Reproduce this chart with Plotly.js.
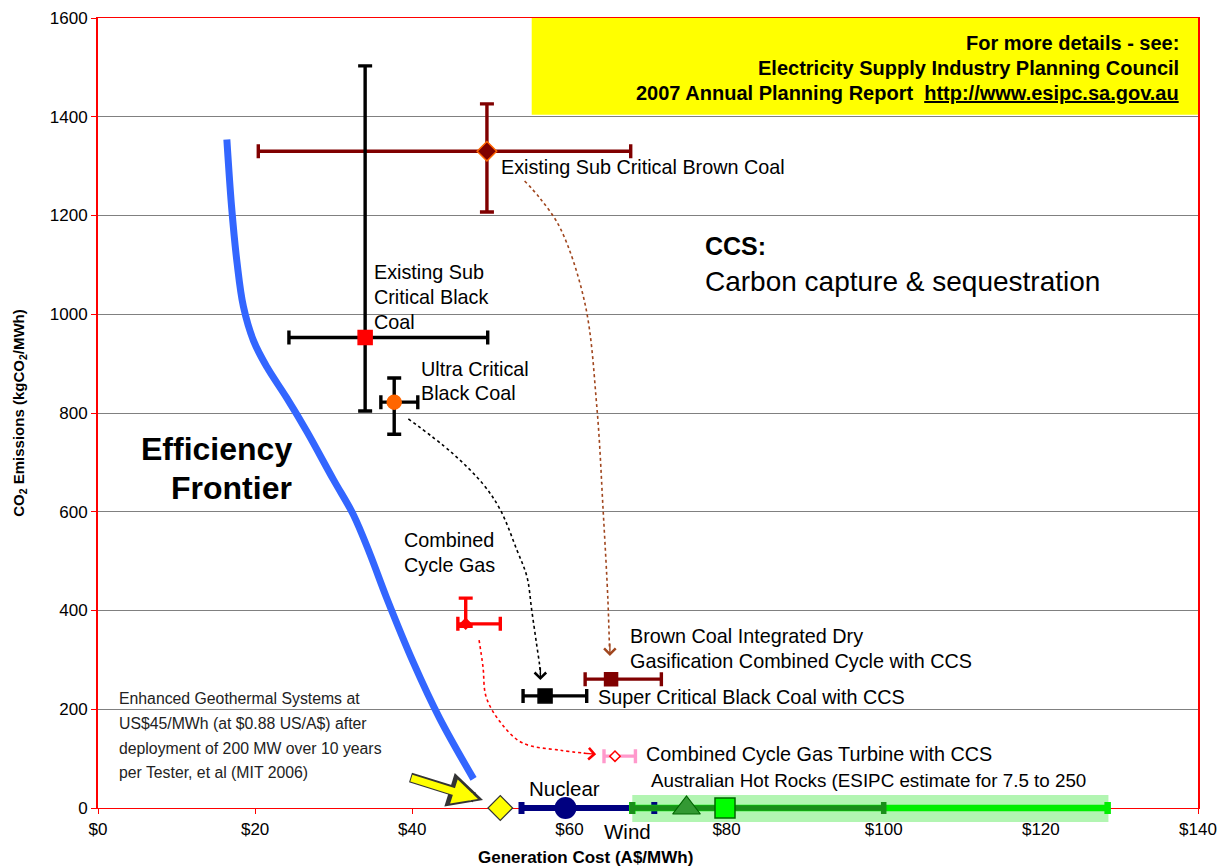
<!DOCTYPE html>
<html><head><meta charset="utf-8">
<script src="https://cdn.plot.ly/plotly-3.0.1.min.js"></script>
<style>html,body{margin:0;padding:0;background:#fff}#chart{width:1224px;height:866px}</style>
</head><body><div id="chart"></div>
<script>
// ---------------- DATA ----------------
const technologies = ["Existing Sub Critical Brown Coal", "Existing Sub Critical Black Coal", "Ultra Critical Black Coal",
  "Combined Cycle Gas", "Super Critical Black Coal with CCS", "Brown Coal IDGCC with CCS", "Combined Cycle Gas Turbine with CCS"];
const genCost  = [49.5, 34.0, 37.7, 46.8, 56.9, 65.3, 65.8];
const costLow  = [20.4, 24.3, 36.0, 45.8, 54.1, 62.0, 64.4];
const costHigh = [67.8, 49.6, 40.7, 51.2, 62.2, 71.7, 68.4];
const emissions = [1330, 953, 822, 373, 227, 261, 105];
const emisLow   = [1207, 804, 757, 368, 227, 261, 105];
const emisHigh  = [1426, 1503, 871, 425, 227, 261, 105];

const zeroEmissionTech = ["Enhanced Geothermal", "Nuclear", "Wind", "Australian Hot Rocks"];
const zeroCost     = [51.2, 59.5, 74.9, 79.8];
const zeroCostLow  = [51.2, 53.9, 68.0, 68.0];
const zeroCostHigh = [51.2, 70.8, 100.0, 128.5];
const zeroEmis     = [0, 0, 0, 0];

const frontierCost = [16.4, 17.0, 17.7, 18.5, 19.8, 21.5, 24.0, 26.6, 30.0, 32.5, 34.6, 36.7, 40.1, 43.5, 47.8];
const frontierEmis = [1354, 1218, 1104, 1016, 946, 893, 831, 762, 664, 594, 515, 427, 296, 181, 59];

const hotRocksBand = [68.0, 128.6];

// connector paths (data coordinates)
const brownPathX = [54.3, 56.3, 58.9, 62.0, 63.5, 64.3, 64.9, 65.1];
const brownPathY = [1270, 1234, 1172, 1020, 810, 600, 420, 320];
const blackPathX = [39.5, 45.0, 49.0, 51.2, 53.3, 54.6, 55.2, 55.8, 56.2, 56.3];
const blackPathY = [788, 720, 656, 604, 523, 468, 401, 334, 290, 272];
const redPathX = [48.5, 49.0, 49.4, 51.2, 54.0, 58.8, 62.0];
const redPathY = [340, 286, 225, 174, 132, 117, 111];

// ---------------- STYLES ----------------
const FONT = 'Liberation Sans, Arial, sans-serif';
const barColor = ['#800000', '#000000', '#000000', '#FF0000', '#000000', '#800000', '#FF99CC'];
const mkSymbol = ['diamond', 'square', 'circle', 'diamond', 'square', 'square', 'diamond'];
const mkSize = [15, 14, 14, 8, 14, 13, 8];
const mkFill = ['#800000', '#FF0000', '#FF6600', '#FF0000', '#000000', '#800000', '#FFFFFF'];
const mkLine = ['#FF6600', '#FF0000', '#FF6600', '#FF0000', '#000000', '#800000', '#FF0000'];

const traces = [];

// efficiency frontier
traces.push({x: frontierCost, y: frontierEmis, mode: 'lines', line: {color: '#3366FF', width: 7, shape: 'spline'}, hoverinfo: 'skip'});

// dotted connectors
traces.push({x: brownPathX, y: brownPathY, mode: 'lines', line: {color: '#A0461E', width: 1.6, dash: 'dot', shape: 'spline'}});
traces.push({x: blackPathX, y: blackPathY, mode: 'lines', line: {color: '#000000', width: 1.6, dash: 'dot', shape: 'spline'}});
traces.push({x: redPathX, y: redPathY, mode: 'lines', line: {color: '#FF0000', width: 1.6, dash: 'dot', shape: 'spline'}});

technologies.forEach((name, i) => {
  const hasY = emisHigh[i] - emisLow[i] > 0;
  traces.push({
    name, x: [genCost[i]], y: [emissions[i]], mode: 'markers',
    marker: {symbol: mkSymbol[i], size: mkSize[i], color: mkFill[i], line: {color: mkLine[i], width: 1.5}},
    error_x: {type: 'data', symmetric: false, array: [costHigh[i] - genCost[i]], arrayminus: [genCost[i] - costLow[i]],
      color: barColor[i], thickness: 3.4, width: 7},
    error_y: {visible: hasY, type: 'data', symmetric: false, array: [emisHigh[i] - emissions[i]], arrayminus: [emissions[i] - emisLow[i]],
      color: barColor[i], thickness: 3.4, width: 7}
  });
});

// zero emission row, drawn on a thin helper subplot centred on the x axis so the bars are not clipped
function zeroBar(i, color, thick, marker) {
  return {
    name: zeroEmissionTech[i], x: [zeroCost[i]], y: [zeroEmis[i]], xaxis: 'x', yaxis: 'y2', mode: 'markers', cliponaxis: false,
    marker: marker || {size: 1, opacity: 0},
    error_x: {type: 'data', symmetric: false, array: [zeroCostHigh[i] - zeroCost[i]], arrayminus: [zeroCost[i] - zeroCostLow[i]],
      color, thickness: thick, width: 6}
  };
}
traces.push(zeroBar(1, '#000080', 6, {symbol: 'circle', size: 22, color: '#000080'}));
traces.push(zeroBar(3, '#00EE00', 6.5));
traces.push(zeroBar(2, '#1A8F1A', 5.5, {symbol: 'triangle-up', size: 24, color: '#339933', line: {color: '#006600', width: 1.2}}));
traces.push({name: zeroEmissionTech[3], x: [zeroCost[3]], y: [zeroEmis[3]], xaxis: 'x', yaxis: 'y2', mode: 'markers', cliponaxis: false,
  marker: {symbol: 'square', size: 20, color: '#00FF00', line: {color: '#006600', width: 1.5}}});
traces.push({name: zeroEmissionTech[0], x: [zeroCost[0]], y: [zeroEmis[0]], xaxis: 'x', yaxis: 'y2', mode: 'markers', cliponaxis: false,
  marker: {symbol: 'diamond', size: 19, color: '#FFFF00', line: {color: '#333333', width: 1.2}}});

// ---------------- ANNOTATIONS ----------------
function textBlock(lines, x, y, o) {
  const lh = o.lh || o.size * 1.3;
  return lines.map((t, i) => ({
    x, y, xref: o.xref || 'x', yref: o.yref || 'y', text: t, showarrow: false,
    xanchor: o.xanchor || 'left', yanchor: 'middle',
    yshift: ((lines.length - 1) / 2 - i) * lh,
    font: {family: o.family || FONT, size: o.size, color: o.color || '#000000'}
  }));
}
let ann = [];
ann = ann.concat(textBlock(['Existing Sub Critical Brown Coal'], 51.0, 1298, {size: 19.8}));
ann = ann.concat(textBlock(['<b>CCS:</b>'], 77.0, 1138, {size: 25}));
ann = ann.concat(textBlock(['Carbon capture & sequestration'], 77.0, 1067, {size: 28}));
ann = ann.concat(textBlock(['Existing Sub', 'Critical Black', 'Coal'], 34.9, 1035, {size: 19.8, lh: 25}));
ann = ann.concat(textBlock(['Ultra Critical', 'Black Coal'], 40.9, 865, {size: 19.8, lh: 24}));
ann = ann.concat(textBlock(['<b>Efficiency</b>', '<b>Frontier</b>'], 24.9, 688, {size: 32, lh: 39, xanchor: 'right'}));
ann = ann.concat(textBlock(['Combined', 'Cycle Gas'], 38.7, 517, {size: 19.8, lh: 25}));
ann = ann.concat(textBlock(['Brown Coal Integrated Dry', 'Gasification Combined Cycle with CCS'], 67.5, 323, {size: 19.8, lh: 25}));
ann = ann.concat(textBlock(['Super Critical Black Coal with CCS'], 63.4, 225, {size: 19.8}));
ann = ann.concat(textBlock(['Combined Cycle Gas Turbine with CCS'], 69.5, 109, {size: 19.8}));
ann = ann.concat(textBlock(['Australian Hot Rocks (ESIPC estimate for 7.5 to 250'], 70.1, 55, {size: 18.8}));
ann = ann.concat(textBlock(['Nuclear'], 59.4, 39, {size: 20.5, xanchor: 'center'}));
ann = ann.concat(textBlock(['Wind'], 67.4, 0.005, {size: 20.5, xanchor: 'center', yref: 'paper'}));
ann = ann.concat(textBlock(['<b>Generation Cost (A$/MWh)</b>'], 62.0, -0.0257, {size: 17, xanchor: 'center', yref: 'paper'}));
ann = ann.concat(textBlock(['Enhanced Geothermal Systems at', 'US$45/MWh (at $0.88 US/A$) after',
  'deployment of 200 MW over 10 years', 'per Tester, et al (MIT 2006)'], 2.4, 146, {size: 15.8, lh: 24.7, color: '#222222'}));
ann = ann.concat(textBlock(['<b>For more details - see:</b>', '<b>Electricity Supply Industry Planning Council</b>',
  '<b>2007 Annual Planning Report  <span style="text-decoration:underline">http://www.esipc.sa.gov.au</span></b>'],
  137.8, 1499, {size: 20, lh: 25, xanchor: 'right'}));

// arrowheads of connectors
function head(px, py, color, ax, ay) {
  return {x: px, y: py, xref: 'x', yref: 'y', ax, ay, axref: 'pixel', ayref: 'pixel', text: '', showarrow: true,
    arrowhead: 4, arrowsize: 1.6, arrowwidth: 1.4, arrowcolor: color, standoff: 0};
}
ann.push(head(65.15, 308, '#A0461E', 0, -14));
ann.push(head(56.3, 259, '#000000', 0, -14));
ann.push(head(63.4, 109, '#FF0000', -14, -1));
// yellow block arrow pointing at geothermal
ann.push({x: 49.0, y: 16, xref: 'x', yref: 'y', ax: -74, ay: -23, text: '', showarrow: true,
  arrowhead: 2, arrowsize: 0.7, arrowwidth: 10, arrowcolor: '#333333', standoff: 0});
ann.push({x: 48.6, y: 17, xref: 'x', yref: 'y', ax: -70, ay: -22, text: '', showarrow: true,
  arrowhead: 2, arrowsize: 0.72, arrowwidth: 7, arrowcolor: '#FFFF00', standoff: 2});

const layout = {
  width: 1224, height: 866,
  margin: {l: 98, r: 26, t: 18, b: 30},
  paper_bgcolor: '#FFFFFF', plot_bgcolor: 'rgba(0,0,0,0)',
  showlegend: false,
  font: {family: FONT, color: '#000000'},
  xaxis: {
    anchor: 'y',
    range: [0, 140], dtick: 20, tick0: 0, tickprefix: '$', showgrid: false, zeroline: false,
    showline: true, linecolor: '#FF0000', linewidth: 1.5, mirror: true,
    ticks: 'outside', ticklen: 5, tickcolor: '#FF0000', tickfont: {family: FONT, size: 17},
    automargin: false
  },
  yaxis: {
    domain: [0.03423, 1], anchor: 'x',
    range: [0, 1600], dtick: 200, tick0: 0, showgrid: true, gridcolor: '#808080', gridwidth: 1, zeroline: false,
    showline: true, linecolor: '#FF0000', linewidth: 2, mirror: true,
    ticks: 'outside', ticklen: 5, tickcolor: '#FF0000', tickfont: {family: FONT, size: 17},
    title: {text: '<b>CO<sub>2</sub> Emissions (kgCO<sub>2</sub>/MWh)</b>', font: {family: FONT, size: 15}, standoff: 22},
    automargin: false
  },
  yaxis2: {
    domain: [0.00733, 0.06112], anchor: 'x', range: [-1, 1], visible: false, fixedrange: true
  },
  shapes: [
    {type: 'rect', xref: 'x', yref: 'y', x0: 55.2, x1: 140, y0: 1404, y1: 1600, fillcolor: '#FFFF00', line: {width: 0}, layer: 'below'},
    {type: 'rect', xref: 'x', yref: 'y2', x0: hotRocksBand[0], x1: hotRocksBand[1], y0: -0.64, y1: 0.59,
      fillcolor: 'rgb(178,245,178)', line: {width: 0}, layer: 'below'}
  ],
  annotations: ann
};

Plotly.newPlot('chart', traces, layout, {displayModeBar: false, staticPlot: true});
</script>
</body></html>
